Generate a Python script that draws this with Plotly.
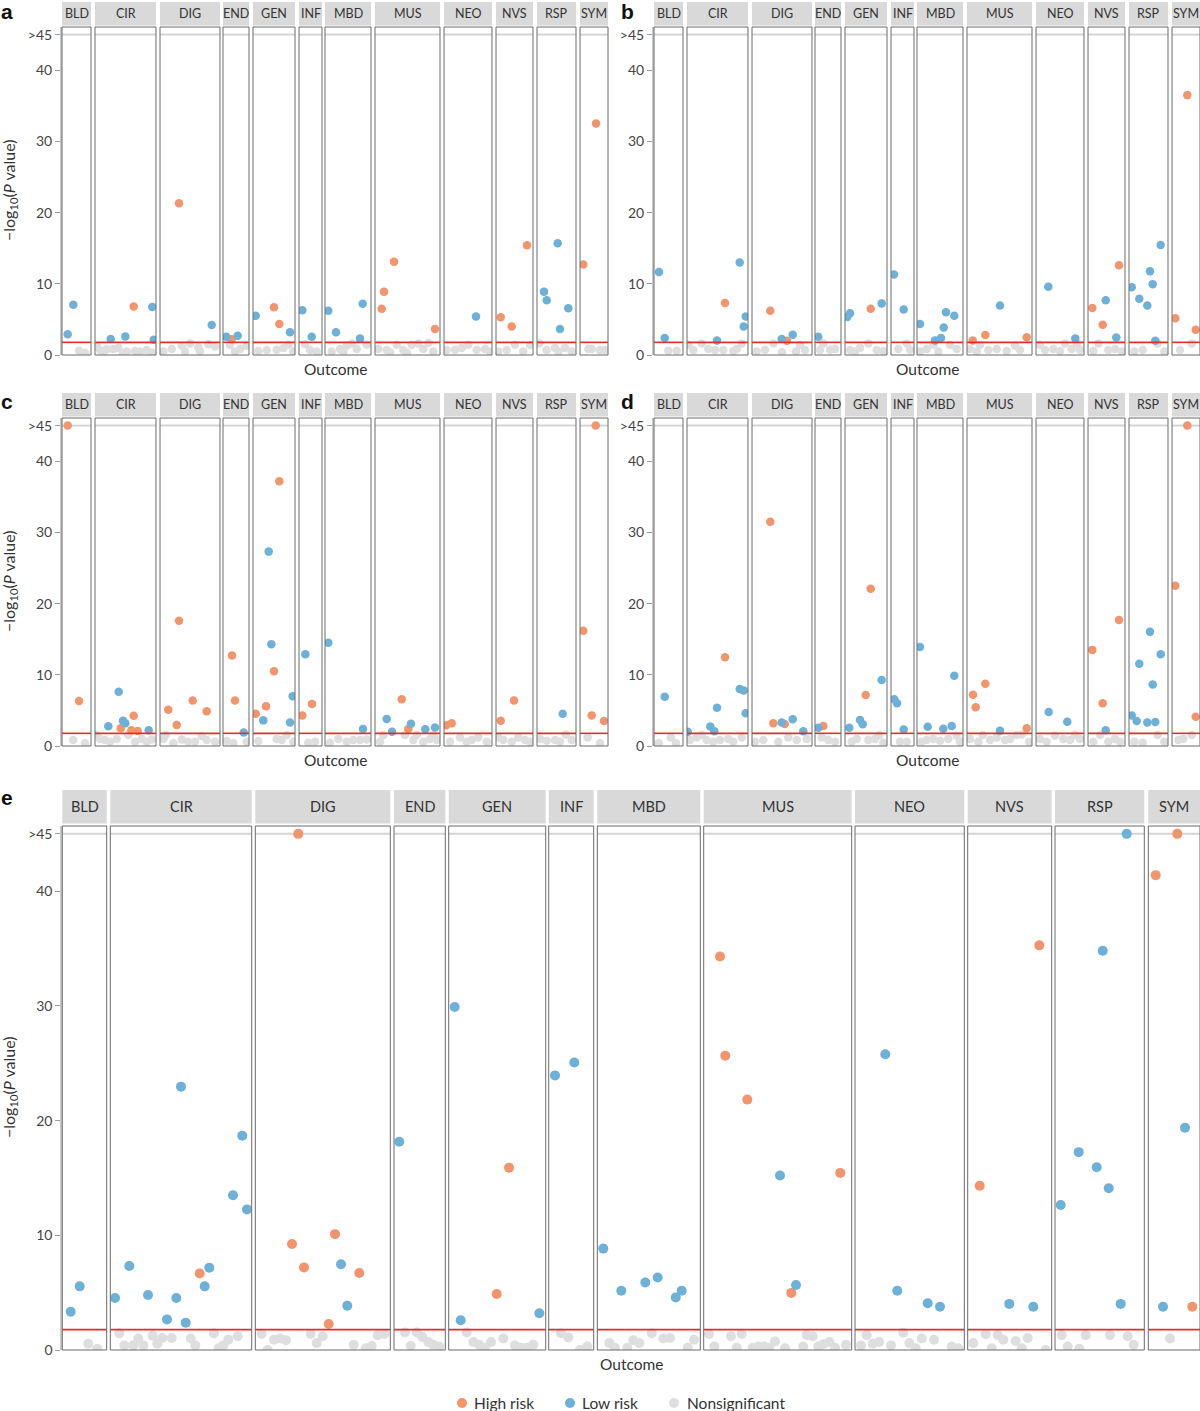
import plotly.graph_objects as go

# ---------------- data ----------------
CATEGORIES = ["BLD", "CIR", "DIG", "END", "GEN", "INF", "MBD", "MUS", "NEO", "NVS", "RSP", "SYM"]
Y_TICK_VALUES = [0, 10, 20, 30, 40, 45]
Y_TICK_LABELS = ["0", "10", "20", "30", "40", ">45"]
Y_CAP = 45
THRESHOLD = 1.78
SERIES_NAMES = ["High risk", "Low risk", "Nonsignificant"]

# (category, outcome position within category, -log10 P)
A_HIGH = [("CIR", 38.7, 6.8), ("DIG", 19, 21.3), ("END", 8.7, 2.2), ("GEN", 21, 6.7), ("GEN", 26.3, 4.35),
          ("MUS", 6.7, 6.5), ("MUS", 9, 8.9), ("MUS", 19, 13.1), ("MUS", 60, 3.65), ("NVS", 4.7, 5.3),
          ("NVS", 15.7, 4.0), ("NVS", 31, 15.4), ("SYM", 3.3, 12.7), ("SYM", 16, 32.5)]
A_LOW = [("BLD", 5.7, 2.9), ("BLD", 11.3, 7.07), ("CIR", 15.7, 2.25), ("CIR", 30.3, 2.6), ("CIR", 57.3, 6.75),
         ("CIR", 58.7, 2.15), ("DIG", 51.7, 4.2), ("END", 3.3, 2.57), ("END", 14.7, 2.7), ("GEN", 2.7, 5.5),
         ("GEN", 37, 3.2), ("INF", 3.3, 6.3), ("INF", 12.7, 2.57), ("MBD", 3.3, 6.2), ("MBD", 11, 3.2),
         ("MBD", 37.7, 7.2), ("MBD", 35, 2.3), ("NEO", 32, 5.4), ("RSP", 7, 8.9), ("RSP", 9.7, 7.7),
         ("RSP", 20.7, 15.7), ("RSP", 23, 3.65), ("RSP", 31.3, 6.55)]
A_NS = [("BLD", 17, 0.6), ("BLD", 23, 0.3),
        ("CIR", 1.7, 1.2), ("CIR", 5, 0.7), ("CIR", 8, 0.3), ("CIR", 11.7, 0.8), ("CIR", 18.3, 0.85), ("CIR", 23.3, 1.0),
        ("CIR", 28, 0.2), ("CIR", 31.7, 0.5), ("CIR", 40, 0.55), ("CIR", 45, 0.5), ("CIR", 51.7, 0.7), ("CIR", 56.7, 0.35),
        ("DIG", 3.3, 0.5), ("DIG", 11.7, 0.84), ("DIG", 21.7, 1.3), ("DIG", 25, 0.5), ("DIG", 30, 1.6), ("DIG", 38.3, 1.1),
        ("DIG", 40, 0.5), ("DIG", 48.3, 1.5), ("DIG", 55, 1.2),
        ("END", 7, 1.4), ("END", 12, 0.5), ("END", 17, 0.84), ("END", 23.7, 1.3),
        ("GEN", 5.3, 0.56), ("GEN", 13.7, 0.7), ("GEN", 23.7, 0.75), ("GEN", 30.3, 1.0), ("GEN", 35.3, 1.45), ("GEN", 40.3, 0.5),
        ("INF", 6, 1.5), ("INF", 11, 0.7), ("INF", 17.7, 0.5),
        ("MBD", 6.7, 0.5), ("MBD", 15, 0.84), ("MBD", 18.3, 0.5), ("MBD", 21.7, 1.3), ("MBD", 26.7, 1.6), ("MBD", 31.7, 0.84),
        ("MBD", 41.7, 1.45),
        ("MUS", 3.3, 0.84), ("MUS", 11.7, 0.7), ("MUS", 15, 0.4), ("MUS", 21.7, 1.45), ("MUS", 28.3, 0.7), ("MUS", 32, 0.3),
        ("MUS", 36.7, 1.45), ("MUS", 43.3, 1.6), ("MUS", 48.3, 0.84), ("MUS", 53.3, 1.7), ("MUS", 58.3, 0.5),
        ("NEO", 2.7, 0.7), ("NEO", 11, 0.75), ("NEO", 17.7, 1.0), ("NEO", 24.3, 1.45), ("NEO", 32.7, 0.75), ("NEO", 41, 0.84),
        ("NEO", 46, 0.5),
        ("NVS", 2.3, 0.5), ("NVS", 10.7, 0.7), ("NVS", 19, 1.45), ("NVS", 27.3, 0.5), ("NVS", 34, 1.4),
        ("RSP", 2.3, 1.6), ("RSP", 9.7, 0.7), ("RSP", 18, 1.0), ("RSP", 21.3, 0.5), ("RSP", 28, 1.0), ("RSP", 34.7, 0.5),
        ("SYM", 8.3, 0.84), ("SYM", 11.7, 0.84), ("SYM", 20, 0.7), ("SYM", 25, 0.7)]

B_HIGH = [("CIR", 38, 7.3), ("DIG", 18.3, 6.2), ("DIG", 35, 2.0), ("GEN", 25.7, 6.5), ("MUS", 5.7, 2.05),
          ("MUS", 18.3, 2.8), ("MUS", 59.7, 2.5), ("NVS", 4.3, 6.6), ("NVS", 14.7, 4.25), ("NVS", 31, 12.6),
          ("SYM", 15.3, 36.5), ("SYM", 3.3, 5.15), ("SYM", 23.7, 3.55)]
B_LOW = [("BLD", 5, 11.65), ("BLD", 10.7, 2.4), ("CIR", 30, 2.05), ("CIR", 52.7, 13.0), ("CIR", 58.7, 5.4),
         ("CIR", 56.7, 4.0), ("DIG", 29.7, 2.25), ("DIG", 40.7, 2.85), ("END", 3.3, 2.57), ("GEN", 2.3, 5.35),
         ("GEN", 5, 5.85), ("GEN", 36.7, 7.25), ("INF", 3, 11.3), ("INF", 12.7, 6.4), ("MBD", 3, 4.35),
         ("MBD", 18, 2.05), ("MBD", 24, 2.4), ("MBD", 26.7, 3.85), ("MBD", 29, 6.0), ("MBD", 37.3, 5.5),
         ("MUS", 33, 6.95), ("NEO", 12.3, 9.6), ("NEO", 39.3, 2.3), ("NVS", 17.7, 7.7), ("NVS", 28.3, 2.45),
         ("RSP", 2.7, 9.5), ("RSP", 10.3, 7.9), ("RSP", 18.3, 6.95), ("RSP", 21, 11.75), ("RSP", 23.7, 9.95),
         ("RSP", 31.7, 15.45), ("RSP", 26.3, 2.0)]
B_NS = [("BLD", 14.3, 0.6), ("BLD", 22.7, 0.6),
        ("CIR", 1.3, 1.4), ("CIR", 6.3, 0.7), ("CIR", 14.7, 1.6), ("CIR", 21.3, 0.84), ("CIR", 28, 0.7), ("CIR", 36.3, 0.7),
        ("CIR", 46.3, 0.56), ("CIR", 49.7, 0.84), ("CIR", 54.7, 1.6),
        ("DIG", 4.7, 0.5), ("DIG", 13, 0.75), ("DIG", 21.3, 1.6), ("DIG", 30, 0.4), ("DIG", 44, 0.5), ("DIG", 48, 1.4),
        ("DIG", 53, 0.7),
        ("END", 5, 0.7), ("END", 8.3, 1.6), ("END", 15, 0.75), ("END", 20, 0.84),
        ("GEN", 5, 0.7), ("GEN", 10, 0.5), ("GEN", 15, 1.0), ("GEN", 23.3, 1.6), ("GEN", 31.7, 0.7), ("GEN", 38.3, 0.56),
        ("INF", 7.3, 0.84), ("INF", 15.7, 1.6), ("INF", 19, 0.75),
        ("MBD", 3, 0.5), ("MBD", 9.7, 0.84), ("MBD", 16.3, 1.45), ("MBD", 21.3, 0.5), ("MBD", 33, 1.45), ("MBD", 39.7, 0.84),
        ("MUS", 3, 0.84), ("MUS", 9.7, 0.5), ("MUS", 13, 1.45), ("MUS", 21.3, 0.7), ("MUS", 29.7, 0.84), ("MUS", 39.7, 0.56),
        ("MUS", 48, 1.3), ("MUS", 53, 0.7),
        ("NEO", 4, 1.4), ("NEO", 9, 0.7), ("NEO", 17.3, 0.84), ("NEO", 24, 0.56), ("NEO", 29, 1.6), ("NEO", 35.7, 0.84),
        ("NEO", 40.7, 1.6), ("NEO", 44, 0.75),
        ("NVS", 5.3, 0.56), ("NVS", 10.3, 1.6), ("NVS", 20.3, 0.7), ("NVS", 27, 0.84), ("NVS", 33.7, 0.5),
        ("RSP", 5.3, 0.5), ("RSP", 13.7, 0.7), ("RSP", 28.7, 1.6), ("RSP", 35.3, 0.5),
        ("SYM", 8, 0.7), ("SYM", 19.7, 1.6)]

C_HIGH = [("BLD", 5.7, 45), ("BLD", 17, 6.32), ("CIR", 25.7, 2.48), ("CIR", 36.3, 2.2), ("CIR", 38.7, 4.26),
          ("CIR", 42.7, 2.11), ("DIG", 8.3, 5.1), ("DIG", 16.7, 2.94), ("DIG", 19, 17.6), ("DIG", 32.7, 6.4),
          ("DIG", 46.7, 4.87), ("END", 9, 12.7), ("END", 12, 6.4), ("GEN", 2.7, 4.54), ("GEN", 13, 5.6),
          ("GEN", 21, 10.5), ("GEN", 26.3, 37.2), ("INF", 3.3, 4.3), ("INF", 13, 5.9), ("MUS", 26.7, 6.55),
          ("MUS", 33.3, 2.39), ("NEO", 2.3, 2.9), ("NEO", 7.7, 3.2), ("NVS", 4.7, 3.56), ("NVS", 18, 6.4),
          ("SYM", 3.3, 16.2), ("SYM", 15.7, 45), ("SYM", 11.7, 4.3), ("SYM", 24, 3.5)]
C_LOW = [("CIR", 13.3, 2.76), ("CIR", 23.7, 7.63), ("CIR", 28, 3.56), ("CIR", 30.3, 3.18), ("CIR", 53.7, 2.2),
         ("END", 20.7, 1.91), ("GEN", 10.3, 3.6), ("GEN", 15.7, 27.3), ("GEN", 18.3, 14.3), ("GEN", 37, 3.3),
         ("GEN", 39.7, 7.0), ("INF", 6.3, 12.9), ("MBD", 3.3, 14.5), ("MBD", 38, 2.39), ("MUS", 11.7, 3.8),
         ("MUS", 17, 2.0), ("MUS", 36, 3.14), ("MUS", 50.3, 2.34), ("MUS", 60, 2.6), ("RSP", 25.7, 4.54)]
C_NS = [("BLD", 11.3, 0.84), ("BLD", 23, 0.4),
        ("CIR", 1.7, 1.55), ("CIR", 5, 1.0), ("CIR", 10, 0.84), ("CIR", 15, 0.6), ("CIR", 21.7, 1.0), ("CIR", 33.3, 1.55),
        ("CIR", 40, 0.6), ("CIR", 46.7, 1.0), ("CIR", 51.7, 0.6), ("CIR", 56.7, 0.9),
        ("DIG", 3.3, 1.0), ("DIG", 5.7, 1.55), ("DIG", 13.3, 0.4), ("DIG", 21.7, 0.9), ("DIG", 28.3, 0.6), ("DIG", 35, 0.6),
        ("DIG", 41.7, 1.4), ("DIG", 46.7, 0.84), ("DIG", 55, 0.6),
        ("END", 3.7, 0.7), ("END", 10.3, 0.4), ("END", 23.7, 0.6),
        ("GEN", 5.3, 0.7), ("GEN", 23.7, 1.0), ("GEN", 28.7, 0.84), ("GEN", 33.7, 1.55), ("GEN", 40.3, 0.6),
        ("INF", 9.3, 0.45), ("INF", 16, 0.6),
        ("MBD", 5, 0.45), ("MBD", 13.3, 1.0), ("MBD", 21.7, 0.6), ("MBD", 28.3, 0.84), ("MBD", 35, 0.84), ("MBD", 41.7, 0.9),
        ("MUS", 5, 0.6), ("MUS", 8.3, 1.55), ("MUS", 30, 1.55), ("MUS", 38.3, 0.84), ("MUS", 41.7, 1.55), ("MUS", 48.3, 0.6),
        ("MUS", 55, 1.0), ("MUS", 58.3, 1.55), ("MUS", 61.7, 0.84),
        ("NEO", 6, 0.6), ("NEO", 16, 1.2), ("NEO", 22.7, 0.6), ("NEO", 27.7, 0.84), ("NEO", 34.3, 1.2), ("NEO", 42.7, 0.6),
        ("NVS", 2.3, 1.2), ("NVS", 7.3, 0.84), ("NVS", 15.7, 0.6), ("NVS", 22.3, 1.2), ("NVS", 29, 0.84), ("NVS", 34, 0.6),
        ("RSP", 3, 1.0), ("RSP", 9.7, 0.75), ("RSP", 18, 0.84), ("RSP", 23, 0.6), ("RSP", 28.7, 1.6), ("RSP", 34.7, 0.84),
        ("SYM", 7.7, 1.2), ("SYM", 20, 0.4)]

D_HIGH = [("CIR", 38, 12.45), ("DIG", 18.3, 31.5), ("DIG", 21.3, 3.2), ("DIG", 32.7, 3.08), ("END", 8.3, 2.8),
          ("GEN", 20.7, 7.16), ("GEN", 25.7, 22.1), ("MUS", 6, 7.2), ("MUS", 8.7, 5.44), ("MUS", 18.3, 8.75),
          ("MUS", 59.7, 2.48), ("NVS", 4.3, 13.5), ("NVS", 14.7, 6.0), ("NVS", 31, 17.7), ("SYM", 3.3, 22.5),
          ("SYM", 15.3, 45), ("SYM", 23.7, 4.1)]
D_LOW = [("BLD", 10.7, 6.93), ("CIR", 0.7, 2.0), ("CIR", 23.3, 2.75), ("CIR", 27.3, 2.06), ("CIR", 30, 5.38),
         ("CIR", 52.7, 8.0), ("CIR", 56.7, 7.8), ("CIR", 58.7, 4.6), ("DIG", 29.7, 3.3), ("DIG", 40.7, 3.75),
         ("DIG", 51.3, 2.06), ("END", 3.3, 2.57), ("GEN", 4.3, 2.57), ("GEN", 15, 3.66), ("GEN", 17.7, 3.05),
         ("GEN", 36.7, 9.27), ("INF", 3.3, 6.55), ("INF", 6, 5.99), ("INF", 12.7, 2.3), ("MBD", 3, 13.9),
         ("MBD", 10.7, 2.71), ("MBD", 26.3, 2.43), ("MBD", 34.7, 2.8), ("MBD", 37.3, 9.88), ("MUS", 33, 2.15),
         ("NEO", 12.7, 4.78), ("NEO", 31.3, 3.42), ("NVS", 17.7, 2.2), ("RSP", 2.7, 4.3), ("RSP", 7.7, 3.52),
         ("RSP", 10.3, 11.56), ("RSP", 18.3, 3.29), ("RSP", 21, 16.06), ("RSP", 23.7, 8.64), ("RSP", 26.3, 3.38),
         ("RSP", 31.7, 12.9)]
D_NS = [("BLD", 4.7, 0.4), ("BLD", 16.7, 1.2), ("BLD", 22, 0.4),
        ("CIR", 3, 0.84), ("CIR", 9.7, 1.2), ("CIR", 14.7, 1.55), ("CIR", 19.7, 0.84), ("CIR", 26.3, 0.6), ("CIR", 33, 0.84),
        ("CIR", 41.3, 1.0), ("CIR", 46.3, 0.6), ("CIR", 54.7, 1.2),
        ("DIG", 3, 0.6), ("DIG", 11.3, 0.84), ("DIG", 26.3, 0.6), ("DIG", 36.3, 1.2), ("DIG", 44.7, 0.84), ("DIG", 54.7, 1.0),
        ("END", 6.7, 1.2), ("END", 13.3, 0.84), ("END", 20, 0.6),
        ("GEN", 6.7, 0.6), ("GEN", 11.7, 1.0), ("GEN", 23.3, 0.84), ("GEN", 30, 1.0), ("GEN", 34.3, 1.55), ("GEN", 38.3, 0.45),
        ("INF", 9, 0.6), ("INF", 15.7, 0.6),
        ("MBD", 4.7, 0.6), ("MBD", 9.7, 0.84), ("MBD", 16.3, 1.0), ("MBD", 23, 0.75), ("MBD", 31.3, 1.0), ("MBD", 39.7, 1.45),
        ("MBD", 43, 0.6),
        ("MUS", 3, 1.0), ("MUS", 11.3, 0.6), ("MUS", 15.7, 1.55), ("MUS", 23, 0.84), ("MUS", 29.7, 1.2), ("MUS", 38, 0.84),
        ("MUS", 43, 1.0), ("MUS", 49.7, 1.55), ("MUS", 54.7, 1.6), ("MUS", 62, 0.6),
        ("NEO", 4, 1.0), ("NEO", 10.7, 0.6), ("NEO", 19, 1.45), ("NEO", 27.3, 1.0), ("NEO", 34, 0.84), ("NEO", 39, 1.55),
        ("NEO", 44, 1.0),
        ("NVS", 5.3, 0.6), ("NVS", 12, 1.55), ("NVS", 20.3, 0.6), ("NVS", 27, 1.0), ("NVS", 32, 0.6),
        ("RSP", 5.3, 0.6), ("RSP", 13.7, 0.45), ("RSP", 28.7, 1.55), ("RSP", 35.3, 0.6),
        ("SYM", 6.3, 0.84), ("SYM", 11.3, 1.0), ("SYM", 19.7, 1.55)]

E_HIGH = [("CIR", 89.4, 6.68), ("DIG", 43, 45), ("DIG", 36.7, 9.24), ("DIG", 48.7, 7.2), ("DIG", 73.4, 2.27),
          ("DIG", 79.7, 10.1), ("DIG", 104, 6.71), ("GEN", 48, 4.88), ("GEN", 60.3, 15.9), ("MUS", 16.3, 34.3),
          ("MUS", 21.6, 25.66), ("MUS", 43.6, 21.83), ("MUS", 87.6, 4.98), ("MUS", 136.6, 15.44),
          ("NVS", 12, 14.32), ("NVS", 71.6, 35.28), ("SYM", 7.4, 41.4), ("SYM", 29, 45), ("SYM", 44, 3.77)]
E_LOW = [("BLD", 8.4, 3.34), ("BLD", 17.4, 5.55), ("CIR", 4.7, 4.53), ("CIR", 19, 7.32), ("CIR", 37.7, 4.8),
         ("CIR", 56.7, 2.67), ("CIR", 66, 4.53), ("CIR", 70.7, 22.96), ("CIR", 75.4, 2.38), ("CIR", 94.4, 5.55),
         ("CIR", 99, 7.18), ("CIR", 122.7, 13.49), ("CIR", 132, 18.69), ("CIR", 136.7, 12.26), ("DIG", 85.7, 7.47),
         ("DIG", 92, 3.86), ("END", 5.3, 18.15), ("GEN", 6, 29.9), ("GEN", 12, 2.6), ("GEN", 90.6, 3.2),
         ("INF", 6.3, 23.94), ("INF", 25.6, 25.07), ("MBD", 6, 8.84), ("MBD", 24, 5.17), ("MBD", 48, 5.88),
         ("MBD", 60.4, 6.32), ("MBD", 78.4, 4.58), ("MBD", 84.4, 5.17), ("MUS", 76.3, 15.22), ("MUS", 92.3, 5.67),
         ("NEO", 30.3, 25.78), ("NEO", 42.3, 5.17), ("NEO", 72.7, 4.08), ("NEO", 85, 3.77), ("NVS", 41.6, 4.02),
         ("NVS", 65.6, 3.77), ("RSP", 5.7, 12.64), ("RSP", 23.7, 17.25), ("RSP", 41.7, 15.94), ("RSP", 53.7, 14.1),
         ("RSP", 47.7, 34.81), ("RSP", 71.7, 45), ("RSP", 65.7, 4.02), ("SYM", 14.7, 3.77), ("SYM", 36.7, 19.37)]
E_NS = [("BLD", 26, 0.55), ("BLD", 35, 0.1),
        ("CIR", 9, 1.45), ("CIR", 14, 0.4), ("CIR", 23, 0.4), ("CIR", 28, 1.0), ("CIR", 33, 0.4), ("CIR", 42.4, 1.25),
        ("CIR", 47, 0.55), ("CIR", 52, 1.05), ("CIR", 61.4, 1.05), ("CIR", 80.4, 1.0), ("CIR", 85, 0.4), ("CIR", 103.7, 1.45),
        ("CIR", 108.4, 0.15), ("CIR", 113, 0.4), ("CIR", 118, 0.9), ("CIR", 127.4, 1.2),
        ("DIG", 6.4, 1.4), ("DIG", 12.4, 0.0), ("DIG", 18.7, 0.9), ("DIG", 24.7, 1.0), ("DIG", 30.7, 0.85), ("DIG", 55.4, 1.4),
        ("DIG", 61.4, 0.6), ("DIG", 67.4, 1.2), ("DIG", 98.4, 0.45), ("DIG", 110.4, 0.15), ("DIG", 116.4, 0.35),
        ("DIG", 122.4, 1.3), ("DIG", 129, 1.4),
        ("END", 11, 1.52), ("END", 16.7, 0.37), ("END", 22.7, 1.52), ("END", 28.3, 1.13), ("END", 34.3, 0.7),
        ("END", 39.3, 0.45), ("END", 45.3, 0.3),
        ("GEN", 18, 1.52), ("GEN", 24.6, 0.7), ("GEN", 30.6, 0.45), ("GEN", 36.3, 0.2), ("GEN", 42.3, 0.7), ("GEN", 54.6, 1.0),
        ("GEN", 66.3, 0.4), ("GEN", 72, 0.2), ("GEN", 78, 0.2), ("GEN", 84.6, 0.45),
        ("INF", 12.3, 1.47), ("INF", 19.6, 1.1), ("INF", 31.3, 0.0), ("INF", 38.6, 0.3),
        ("MBD", 12, 0.6), ("MBD", 17.7, 0.2), ("MBD", 30, 0.2), ("MBD", 36, 0.85), ("MBD", 42, 0.6), ("MBD", 54.4, 1.47),
        ("MBD", 66, 1.0), ("MBD", 72.7, 1.05), ("MBD", 90.4, 0.2), ("MBD", 96.7, 0.9),
        ("MUS", 5.3, 1.4), ("MUS", 10.6, 0.3), ("MUS", 27.3, 1.2), ("MUS", 33, 0.2), ("MUS", 38, 1.4), ("MUS", 49, 0.2),
        ("MUS", 54.6, 0.3), ("MUS", 60.3, 0.3), ("MUS", 65.3, 0.2), ("MUS", 71.3, 0.75), ("MUS", 81.3, 0.15),
        ("MUS", 99.6, 0.3), ("MUS", 103, 1.3), ("MUS", 109, 1.2), ("MUS", 114.6, 0.3), ("MUS", 119.6, 0.5),
        ("MUS", 125.6, 0.7), ("MUS", 131.3, 0.2), ("MUS", 142.3, 0.45),
        ("NEO", 6, 0.4), ("NEO", 11.7, 1.3), ("NEO", 17.7, 0.55), ("NEO", 24, 0.7), ("NEO", 36, 0.4), ("NEO", 48.3, 1.5),
        ("NEO", 54.3, 0.6), ("NEO", 60.7, 0.15), ("NEO", 66.7, 1.0), ("NEO", 79, 0.9), ("NEO", 96.7, 0.3), ("NEO", 103.3, 0.15),
        ("NVS", 5.6, 0.6), ("NVS", 18, 1.38), ("NVS", 24, 0.15), ("NVS", 30, 1.3), ("NVS", 35.6, 0.9), ("NVS", 48, 0.78),
        ("NVS", 54, 0.15), ("NVS", 60, 1.05), ("NVS", 78, 0.0),
        ("RSP", 6.7, 1.3), ("RSP", 12.7, 0.3), ("RSP", 24.3, 0.1), ("RSP", 30.7, 1.3), ("RSP", 55, 1.3), ("RSP", 72.7, 1.2),
        ("RSP", 78.7, 0.45),
        ("SYM", 21.7, 1.0)]

PANEL_DATA = {
    "a": (A_HIGH, A_LOW, A_NS),
    "b": (B_HIGH, B_LOW, B_NS),
    "c": (C_HIGH, C_LOW, C_NS),
    "d": (D_HIGH, D_LOW, D_NS),
    "e": (E_HIGH, E_LOW, E_NS),
}

# ---------------- layout (pixels) ----------------
W, H = 1200, 1411
FONT = "Lato, 'Open Sans', sans-serif"
COLORS = ["#F2956C", "#6DB0D8", "#DEDEDE"]
TEXT = "#333333"

SMALL_LEFT = [62, 95, 160, 223, 253, 299, 325, 375, 444, 496, 537, 580]
SMALL_RIGHT = [91, 156, 220, 249, 295, 322, 371, 440, 492, 533, 576, 608]
BIG_LEFT = [62.3, 110.3, 255.3, 394, 448.7, 548.7, 597.3, 703.7, 855, 967.7, 1055, 1148.3]
BIG_RIGHT = [106.7, 251.7, 390.3, 445.3, 545.7, 593.7, 700.3, 851.7, 964.3, 1051.7, 1144.3, 1200]

PANEL_GEOM = {
    "a": dict(xoff=0, top=27, bottom=355, s_top=2, s_bot=25.5, small=True, letter=(7, 12), ytitle=True),
    "b": dict(xoff=592, top=27, bottom=355, s_top=2, s_bot=25.5, small=True, letter=(627, 12), ytitle=False),
    "c": dict(xoff=0, top=418, bottom=746, s_top=393, s_bot=416.5, small=True, letter=(7, 401), ytitle=True),
    "d": dict(xoff=592, top=418, bottom=746, s_top=393, s_bot=416.5, small=True, letter=(627, 401), ytitle=False),
    "e": dict(xoff=0, top=826, bottom=1350, s_top=790, s_bot=823.5, small=False, letter=(7, 797), ytitle=True),
}
PX_PER_UNIT = {"small": 7.12, "big": 11.47}
LEGEND_ITEMS = [(462, 472), (570, 580), (674, 685)]  # (dot centre x, text start x)
LEGEND_Y = 1403


def fx(px):
    return px / W


def fy(py):
    return 1 - py / H


fig = go.Figure()
layout = {}
shapes = []
annotations = []

k = 0
for pname, geom in PANEL_GEOM.items():
    lefts = [v + geom["xoff"] for v in (SMALL_LEFT if geom["small"] else BIG_LEFT)]
    rights = [v + geom["xoff"] for v in (SMALL_RIGHT if geom["small"] else BIG_RIGHT)]
    ppu = PX_PER_UNIT["small" if geom["small"] else "big"]
    ytop = (geom["bottom"] - geom["top"]) / ppu
    msize = 8.5 if geom["small"] else 10
    series = PANEL_DATA[pname]
    for j, cat in enumerate(CATEGORIES):
        k += 1
        xa = "xaxis" if k == 1 else f"xaxis{k}"
        ya = "yaxis" if k == 1 else f"yaxis{k}"
        xr = "x" if k == 1 else f"x{k}"
        yr = "y" if k == 1 else f"y{k}"
        width = rights[j] - lefts[j]
        layout[xa] = dict(domain=[fx(lefts[j]), fx(rights[j])], range=[0, width], anchor=yr,
                          showgrid=False, zeroline=False, showticklabels=False, ticks="", showline=False,
                          fixedrange=True)
        yax = dict(domain=[fy(geom["bottom"]), fy(geom["top"])], range=[0, ytop], anchor=xr,
                   showgrid=False, zeroline=False, fixedrange=True)
        if j == 0:
            yax.update(tickmode="array", tickvals=Y_TICK_VALUES, ticktext=Y_TICK_LABELS,
                       ticks="outside", ticklen=5, tickwidth=1, tickcolor="#9a9a9a",
                       showline=True, linecolor="#c8c8c8", linewidth=2,
                       tickfont=dict(family=FONT, size=14, color="#444444"))
        else:
            yax.update(showticklabels=False, ticks="", showline=False)
        layout[ya] = yax

        # reference lines
        shapes.append(dict(type="line", xref=f"{xr} domain", yref=yr, x0=0, x1=1, y0=Y_CAP, y1=Y_CAP,
                           line=dict(color="#d4d4d4", width=2), layer="below"))
        shapes.append(dict(type="line", xref=f"{xr} domain", yref=yr, x0=0, x1=1, y0=THRESHOLD, y1=THRESHOLD,
                           line=dict(color="#ec2a2a", width=1.6), layer="above"))
        # facet border
        shapes.append(dict(type="rect", xref=f"{xr} domain", yref=f"{yr} domain", x0=0, x1=1, y0=0, y1=1,
                           line=dict(color="#6a6a6a", width=1), fillcolor="rgba(0,0,0,0)", layer="above"))
        # strip
        shapes.append(dict(type="rect", xref="paper", yref="paper", x0=fx(lefts[j]), x1=fx(rights[j]),
                           y0=fy(geom["s_bot"]), y1=fy(geom["s_top"]), fillcolor="#d9d9d9",
                           line=dict(width=0), layer="below"))
        annotations.append(dict(x=fx((lefts[j] + rights[j]) / 2), y=fy((geom["s_top"] + geom["s_bot"]) / 2),
                                xref="paper", yref="paper", text=cat, showarrow=False,
                                xanchor="center", yanchor="middle",
                                font=dict(family=FONT, size=12.5 if geom["small"] else 14.5, color=TEXT)))

        for si in (2, 0, 1):
            pts = [p for p in series[si] if p[0] == cat]
            if not pts:
                continue
            fig.add_trace(go.Scatter(
                x=[p[1] for p in pts], y=[min(p[2], Y_CAP) for p in pts],
                mode="markers", xaxis=xr, yaxis=yr,
                name=SERIES_NAMES[si], legendgroup=SERIES_NAMES[si], showlegend=False,
                marker=dict(color=COLORS[si], size=msize, line=dict(width=0)),
                hovertemplate=f"{cat}<br>-log10(P)=%{{y}}<extra>{SERIES_NAMES[si]}</extra>",
            ))

    # panel letter
    lx, ly = geom["letter"]
    annotations.append(dict(x=fx(lx), y=fy(ly), xref="paper", yref="paper", text=f"<b>{pname}</b>",
                            showarrow=False, xanchor="center", yanchor="middle",
                            font=dict(family="Liberation Sans, Arial, sans-serif", size=21, color="#111111")))
    # x title
    annotations.append(dict(x=fx((lefts[0] + rights[-1]) / 2), y=fy(geom["bottom"] + 14), xref="paper", yref="paper",
                            text="Outcome", showarrow=False, xanchor="center", yanchor="middle",
                            font=dict(family=FONT, size=15.5, color=TEXT)))
    if geom["ytitle"]:
        annotations.append(dict(x=fx(9), y=fy((geom["top"] + geom["bottom"]) / 2), xref="paper", yref="paper",
                                text="\u2212log<sub>10</sub>(<i>P</i> value)", showarrow=False, textangle=-90,
                                xanchor="center", yanchor="middle",
                                font=dict(family=FONT, size=16, color=TEXT)))

# legend (drawn manually so it sits exactly where the reference puts it)
for (cx, tx), name, col in zip(LEGEND_ITEMS, SERIES_NAMES, COLORS):
    r = 5
    shapes.append(dict(type="circle", xref="paper", yref="paper",
                       x0=fx(cx - r), x1=fx(cx + r), y0=fy(LEGEND_Y + r), y1=fy(LEGEND_Y - r),
                       fillcolor=col, line=dict(width=0)))
    annotations.append(dict(x=fx(tx), y=fy(LEGEND_Y), xref="paper", yref="paper", text=name,
                            showarrow=False, xanchor="left", yanchor="middle",
                            font=dict(family=FONT, size=15.5, color=TEXT)))

fig.update_layout(
    width=W, height=H,
    margin=dict(l=0, r=0, t=0, b=0, autoexpand=False),
    paper_bgcolor="white", plot_bgcolor="white",
    showlegend=False,
    shapes=shapes, annotations=annotations,
    **layout,
)

fig.write_html("out.html")
